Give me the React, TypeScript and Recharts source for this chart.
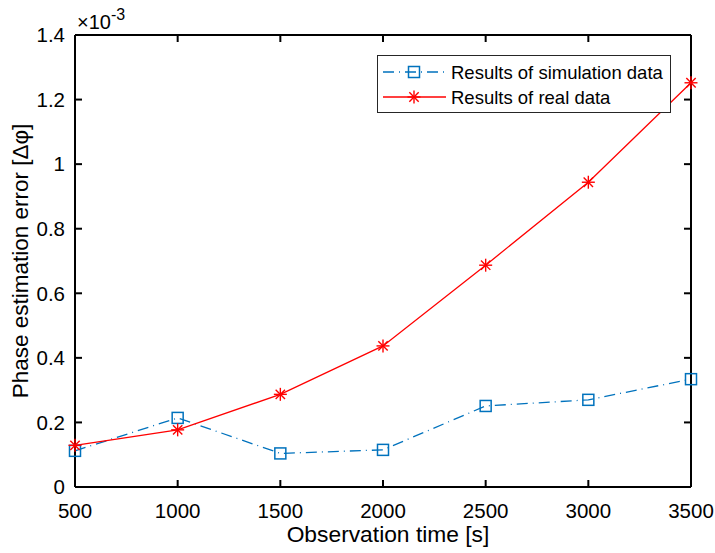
import { LineChart, Line, XAxis, YAxis } from 'recharts'

const times = [500, 1000, 1500, 2000, 2500, 3000, 3500]
// values in units of 1e-3
const simulation = [0.112, 0.214, 0.104, 0.115, 0.251, 0.27, 0.334]
const realData = [0.129, 0.177, 0.287, 0.437, 0.687, 0.944, 1.252]
const xTicks = [500, 1000, 1500, 2000, 2500, 3000, 3500]
const yTicks = [0, 0.2, 0.4, 0.6, 0.8, 1, 1.2, 1.4]

const BLUE = '#0072BD'
const RED = '#FF0000'
const FONT = "'Liberation Sans', Arial, Helvetica, sans-serif"
const DASH = '11 5 1 5'

const data = times.map((t, i) => ({ t, sim: simulation[i], real: realData[i] }))

const axisLine = { stroke: '#000', strokeWidth: 2 }
const tickLine = { stroke: '#000', strokeWidth: 2 }
const tickStyle = { fill: '#000', fontSize: 20.5, fontFamily: FONT }

function squareMarker(cx: number, cy: number, key?: string) {
  return <rect key={key} x={cx - 5.5} y={cy - 5.5} width={11} height={11} fill="none" stroke={BLUE} strokeWidth={1.5} />
}

function starMarker(cx: number, cy: number, key?: string) {
  const r = 6.5
  const d = r * 0.72
  return (
    <g key={key} stroke={RED} strokeWidth={1.4}>
      <line x1={cx - r} y1={cy} x2={cx + r} y2={cy} />
      <line x1={cx} y1={cy - r} x2={cx} y2={cy + r} />
      <line x1={cx - d} y1={cy - d} x2={cx + d} y2={cy + d} />
      <line x1={cx - d} y1={cy + d} x2={cx + d} y2={cy - d} />
    </g>
  )
}

const SquareDot = (p: any) => squareMarker(p.cx, p.cy, `sq-${p.index}`)
const StarDot = (p: any) => starMarker(p.cx, p.cy, `st-${p.index}`)

export default function App() {
  return (
    <div style={{ position: 'absolute', left: 0, top: 0, width: 715, height: 553, background: '#fff' }}>
      <LineChart width={715} height={553} data={data} margin={{ top: 34, right: 23, left: 15, bottom: 26 }}>
        <XAxis
          dataKey="t"
          type="number"
          domain={[500, 3500]}
          ticks={xTicks}
          height={40}
          tickSize={-7}
          tickMargin={23}
          axisLine={axisLine}
          tickLine={tickLine}
          tick={tickStyle}
          label={{
            content: () => (
              <text x={388} y={542} textAnchor="middle" fontSize={22.8} fontFamily={FONT} fill="#000">
                Observation time [s]
              </text>
            ),
          }}
        />
        <XAxis
          xAxisId="top"
          orientation="top"
          dataKey="t"
          type="number"
          domain={[500, 3500]}
          allowDataOverflow
          ticks={xTicks}
          height={1}
          tickSize={-7}
          axisLine={axisLine}
          tickLine={tickLine}
          tickFormatter={() => ''}
        />
        <YAxis
          type="number"
          domain={[0, 1.4]}
          ticks={yTicks}
          width={60}
          tickSize={-7}
          tickMargin={17}
          axisLine={axisLine}
          tickLine={tickLine}
          tick={tickStyle}
          tickFormatter={(v: number) => String(Number(v.toFixed(1)))}
          label={{
            content: () => (
              <text
                x={28}
                y={261}
                textAnchor="middle"
                fontSize={22.5}
                fontFamily={FONT}
                fill="#000"
                transform="rotate(-90, 28, 261)"
              >
                Phase estimation error [Δφ]
              </text>
            ),
          }}
        />
        <YAxis
          yAxisId="right"
          orientation="right"
          type="number"
          domain={[0, 1.4]}
          allowDataOverflow
          ticks={yTicks}
          width={1}
          tickSize={-7}
          axisLine={axisLine}
          tickLine={tickLine}
          tickFormatter={() => ''}
        />
        <Line
          type="linear"
          dataKey="sim"
          stroke={BLUE}
          strokeWidth={1.3}
          strokeDasharray={DASH}
          dot={SquareDot}
          activeDot={false}
          isAnimationActive={false}
        />
        <Line
          type="linear"
          dataKey="real"
          stroke={RED}
          strokeWidth={1.3}
          dot={StarDot}
          activeDot={false}
          isAnimationActive={false}
        />
      </LineChart>
      <svg
        width={715}
        height={553}
        style={{ position: 'absolute', left: 0, top: 0, pointerEvents: 'none' }}
        fontFamily={FONT}
      >
        <text x={77} y={29} fontSize={20} fill="#000">
          ×10
          <tspan dy={-9} fontSize={16}>-3</tspan>
        </text>
        <rect x={377.5} y={55.5} width={293} height={57} fill="#fff" stroke="#262626" strokeWidth={1} />
        <line x1={383} y1={72} x2={446} y2={72} stroke={BLUE} strokeWidth={1.3} strokeDasharray={DASH} />
        {squareMarker(414, 72)}
        <text x={451} y={78.5} fontSize={18.5} fill="#000">Results of simulation data</text>
        <line x1={383} y1={97} x2={446} y2={97} stroke={RED} strokeWidth={1.3} />
        {starMarker(414, 97)}
        <text x={451} y={103.5} fontSize={18.5} fill="#000">Results of real data</text>
      </svg>
    </div>
  )
}
